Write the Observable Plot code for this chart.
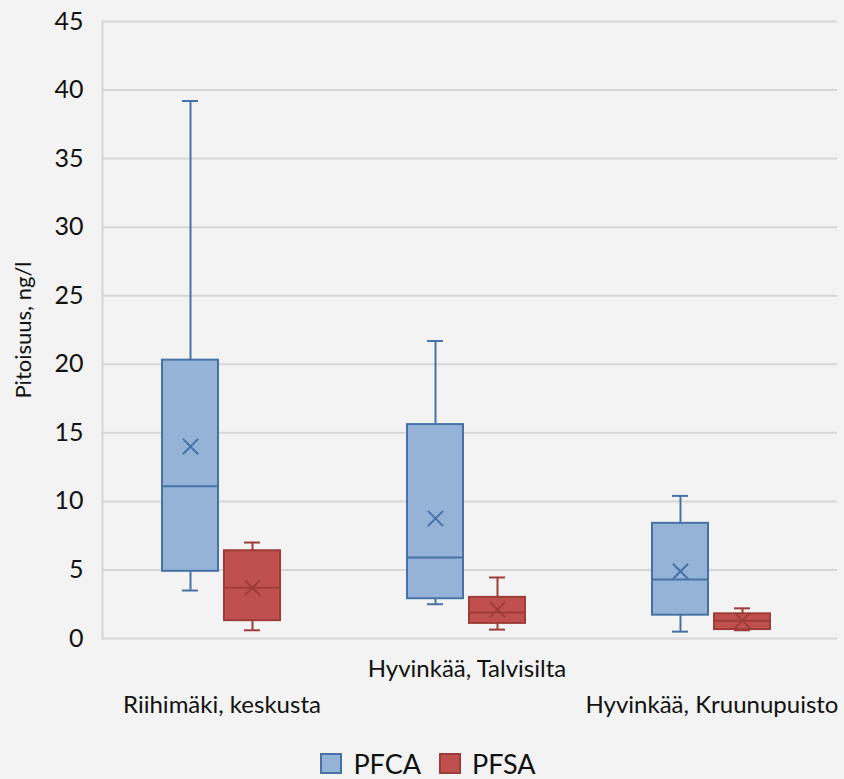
<!DOCTYPE html>
<html>
<head>
<meta charset="utf-8">
<script src="https://cdn.jsdelivr.net/npm/d3@7"></script>
<script src="https://cdn.jsdelivr.net/npm/@observablehq/plot@0.6"></script>
<style>
  html, body { margin: 0; padding: 0; background: #f2f3f2; }
  #chart { width: 844px; height: 730px; }
  .legend { display: flex; justify-content: center; align-items: center; font-family: Lato, "Open Sans", sans-serif; font-size: 27px; color: #111; height: 44px; margin-top: 11px; padding-left: 12px; }
  .legend .item { display: flex; align-items: center; margin: 0 9px; }
  .legend .sw { width: 22px; height: 21px; border: 2px solid; margin-right: 11px; box-sizing: border-box; }
</style>
</head>
<body>
<div id="chart"></div>
<script>
const categories = ["Riihimäki, keskusta", "Hyvinkää, Talvisilta", "Hyvinkää, Kruunupuisto"];
const series = ["PFCA", "PFSA"];

const pfcaMin    = [3.5, 2.5, 0.5];
const pfcaQ1     = [4.9, 2.9, 1.7];
const pfcaMedian = [11.1, 5.9, 4.3];
const pfcaQ3     = [20.3, 15.6, 8.4];
const pfcaMax    = [39.2, 21.7, 10.4];
const pfcaMean   = [14.0, 8.75, 4.9];

const pfsaMin    = [0.6, 0.65, 0.6];
const pfsaQ1     = [1.3, 1.1, 0.65];
const pfsaMedian = [3.7, 1.9, 1.3];
const pfsaQ3     = [6.4, 3.0, 1.8];
const pfsaMax    = [7.0, 4.45, 2.2];
const pfsaMean   = [3.7, 2.1, 1.3];

const yTicks = [0, 5, 10, 15, 20, 25, 30, 35, 40, 45];
const yLabel = "Pitoisuus, ng/l";

const fillColor = {PFCA: "#95b3d7", PFSA: "#c0504d"};
const strokeColor = {PFCA: "#4772a7", PFSA: "#9e3c3a"};

const stats = {
  PFCA: {min: pfcaMin, q1: pfcaQ1, median: pfcaMedian, q3: pfcaQ3, max: pfcaMax, mean: pfcaMean},
  PFSA: {min: pfsaMin, q1: pfsaQ1, median: pfsaMedian, q3: pfsaQ3, max: pfsaMax, mean: pfsaMean}
};
const rows = [];
categories.forEach((c, i) => {
  series.forEach(s => {
    const st = stats[s];
    rows.push({category: c, series: s, min: st.min[i], q1: st.q1[i], median: st.median[i], q3: st.q3[i], max: st.max[i], mean: st.mean[i]});
  });
});

const font = "Lato, 'Open Sans', sans-serif";
const stroke = d => strokeColor[d.series];

const chart = Plot.plot({
  width: 844,
  height: 730,
  marginLeft: 101,
  marginRight: 6,
  marginTop: 21,
  marginBottom: 92,
  style: {background: "#f2f3f2", fontFamily: font, color: "#111"},
  fx: {domain: categories, padding: 0, axis: null},
  x: {domain: series, paddingInner: 0.095, paddingOuter: 1.0, align: 0.47, axis: null},
  y: {domain: [0, 45], ticks: yTicks},
  marks: [
    Plot.gridY(yTicks, {stroke: "#d6d6d6", strokeOpacity: 1, strokeWidth: 2}),
    Plot.frame({anchor: "left", facetAnchor: "left", stroke: "#d6d6d6", strokeWidth: 2}),
    Plot.axisY(yTicks, {tickSize: 0, tickPadding: 19, fontSize: 25, label: null}),
    Plot.text([yLabel], {text: d => d, fx: () => categories[0], frameAnchor: "left", textAnchor: "middle", dx: -79, rotate: -90, fontSize: 22, fill: "#111"}),
    Plot.ruleX(rows, {fx: "category", x: "series", y1: "min", y2: "q1", stroke, strokeWidth: 2}),
    Plot.ruleX(rows, {fx: "category", x: "series", y1: "q3", y2: "max", stroke, strokeWidth: 2}),
    Plot.tickY(rows, {fx: "category", x: "series", y: "min", stroke, strokeWidth: 2, insetLeft: 20, insetRight: 20}),
    Plot.tickY(rows, {fx: "category", x: "series", y: "max", stroke, strokeWidth: 2, insetLeft: 20, insetRight: 20}),
    Plot.barY(rows, {fx: "category", x: "series", y1: "q1", y2: "q3", fill: d => fillColor[d.series], stroke, strokeWidth: 2}),
    Plot.tickY(rows, {fx: "category", x: "series", y: "median", stroke, strokeWidth: 2}),
    Plot.dot(rows, {fx: "category", x: "series", y: "mean", symbol: "times", r: 7, stroke, strokeWidth: 2}),
    Plot.text(categories.filter((c, i) => i % 2 === 0), {fx: d => d, text: d => d, frameAnchor: "bottom", dy: 67, dx: -3, lineAnchor: "middle", fontSize: 24, fill: "#111"}),
    Plot.text(categories.filter((c, i) => i % 2 === 1), {fx: d => d, text: d => d, frameAnchor: "bottom", dy: 31, dx: -3, lineAnchor: "middle", fontSize: 24, fill: "#111"})
  ]
});
document.getElementById("chart").appendChild(chart);

const legend = document.createElement("div");
legend.className = "legend";
series.forEach(s => {
  const item = document.createElement("div");
  item.className = "item";
  const sw = document.createElement("div");
  sw.className = "sw";
  sw.style.background = fillColor[s];
  sw.style.borderColor = strokeColor[s];
  const label = document.createElement("span");
  label.textContent = s;
  item.appendChild(sw);
  item.appendChild(label);
  legend.appendChild(item);
});
document.body.appendChild(legend);
</script>
</body>
</html>
